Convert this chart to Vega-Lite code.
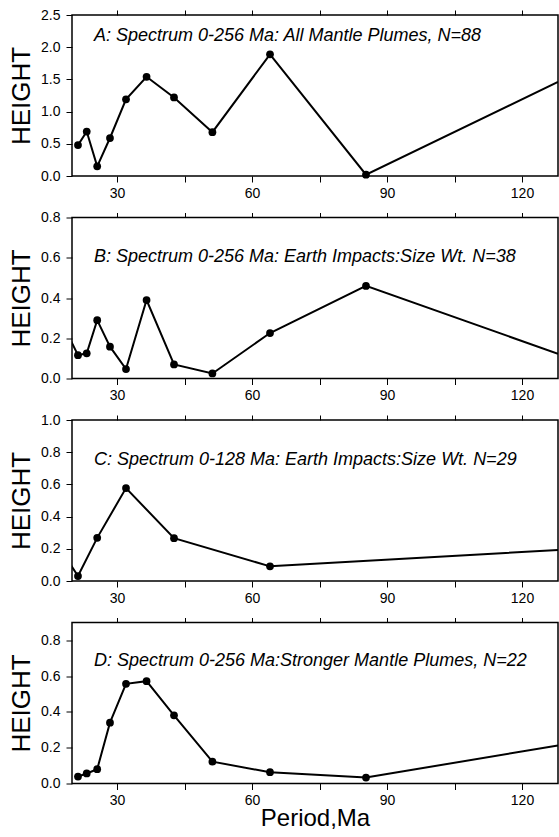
{
  "$schema": "https://vega.github.io/schema/vega-lite/v6.json",
  "background": "white",
  "autosize": {"type": "pad"},
  "padding": {"left": 7, "top": 7, "right": 0, "bottom": 0},
  "bounds": "flush",
  "spacing": 41.5,
  "config": {
    "font": "Liberation Sans",
    "view": {"stroke": "black", "strokeWidth": 1.5},
    "title": {"anchor": "start", "frame": "group", "dx": 22, "baseline": "alphabetic", "fontSize": 18, "fontStyle": "italic", "fontWeight": "normal", "font": "Liberation Sans", "color": "black"},
    "axis": {
      "domain": false,
      "grid": false,
      "tickColor": "black",
      "tickSize": 6,
      "tickWidth": 1,
      "labelColor": "black",
      "labelFont": "Liberation Sans",
      "labelFontSize": 14,
      "labelOverlap": false,
      "titleColor": "black",
      "titleFont": "Liberation Sans",
      "titleFontWeight": "normal"
    },
    "axisX": {"labelPadding": 4},
    "axisY": {"labelPadding": 6, "titlePadding": 6, "titleFontSize": 26}
  },
  "datasets": {
    "A": [
      {"period": 21.33, "amp": 0.48, "dot": true},
      {"period": 23.27, "amp": 0.69, "dot": true},
      {"period": 25.6, "amp": 0.15, "dot": true},
      {"period": 28.44, "amp": 0.59, "dot": true},
      {"period": 32.0, "amp": 1.19, "dot": true},
      {"period": 36.57, "amp": 1.54, "dot": true},
      {"period": 42.67, "amp": 1.22, "dot": true},
      {"period": 51.2, "amp": 0.68, "dot": true},
      {"period": 64.0, "amp": 1.89, "dot": true},
      {"period": 85.33, "amp": 0.02, "dot": true},
      {"period": 128.0, "amp": 1.46, "dot": false}
    ],
    "B": [
      {"period": 19.69, "amp": 0.19, "dot": false},
      {"period": 21.33, "amp": 0.116, "dot": true},
      {"period": 23.27, "amp": 0.125, "dot": true},
      {"period": 25.6, "amp": 0.29, "dot": true},
      {"period": 28.44, "amp": 0.158, "dot": true},
      {"period": 32.0, "amp": 0.047, "dot": true},
      {"period": 36.57, "amp": 0.39, "dot": true},
      {"period": 42.67, "amp": 0.07, "dot": true},
      {"period": 51.2, "amp": 0.025, "dot": true},
      {"period": 64.0, "amp": 0.226, "dot": true},
      {"period": 85.33, "amp": 0.46, "dot": true},
      {"period": 128.0, "amp": 0.123, "dot": false}
    ],
    "C": [
      {"period": 18.29, "amp": 0.16, "dot": false},
      {"period": 21.33, "amp": 0.031, "dot": true},
      {"period": 25.6, "amp": 0.268, "dot": true},
      {"period": 32.0, "amp": 0.577, "dot": true},
      {"period": 42.67, "amp": 0.266, "dot": true},
      {"period": 64.0, "amp": 0.091, "dot": true},
      {"period": 128.0, "amp": 0.193, "dot": false}
    ],
    "D": [
      {"period": 21.33, "amp": 0.039, "dot": true},
      {"period": 23.27, "amp": 0.056, "dot": true},
      {"period": 25.6, "amp": 0.08, "dot": true},
      {"period": 28.44, "amp": 0.34, "dot": true},
      {"period": 32.0, "amp": 0.557, "dot": true},
      {"period": 36.57, "amp": 0.572, "dot": true},
      {"period": 42.67, "amp": 0.381, "dot": true},
      {"period": 51.2, "amp": 0.122, "dot": true},
      {"period": 64.0, "amp": 0.063, "dot": true},
      {"period": 85.33, "amp": 0.033, "dot": true},
      {"period": 128.0, "amp": 0.213, "dot": false}
    ]
  },
  "vconcat": [
    {
      "width": 486, "height": 161,
      "title": {"text": "A: Spectrum 0-256 Ma: All Mantle Plumes, N=88", "offset": -37},
      "layer": [
        {
          "data": {"name": "A"},
          "mark": {"type": "line", "color": "black", "strokeWidth": 2, "clip": true},
          "encoding": {
            "x": {"field": "period", "type": "quantitative", "scale": {"domain": [20, 128], "nice": false, "zero": false},
                  "axis": {"orient": "bottom", "title": null, "values": [30, 45, 60, 75, 90, 105, 120], "labelExpr": "datum.value % 30 == 0 ? datum.label : ''"}},
            "y": {"field": "amp", "type": "quantitative", "scale": {"domain": [0, 2.5], "nice": false},
                  "axis": {"title": "HEIGHT", "values": [0, 0.5, 1, 1.5, 2, 2.5], "format": ".1f"}}
          }
        },
        {
          "data": {"name": "A"},
          "transform": [{"filter": "datum.dot"}],
          "mark": {"type": "point", "filled": true, "color": "black", "opacity": 1, "size": 60},
          "encoding": {
            "x": {"field": "period", "type": "quantitative",
                  "axis": {"orient": "top", "title": null, "labels": false, "values": [30, 45, 60, 75, 90, 105, 120], "tickSize": 5}},
            "y": {"field": "amp", "type": "quantitative",
                  "axis": {"title": "HEIGHT", "values": [0, 0.5, 1, 1.5, 2, 2.5], "format": ".1f"}}
          }
        }
      ]
    },
    {
      "width": 486, "height": 161,
      "title": {"text": "B: Spectrum 0-256 Ma: Earth Impacts:Size Wt. N=38", "offset": -55},
      "layer": [
        {
          "data": {"name": "B"},
          "mark": {"type": "line", "color": "black", "strokeWidth": 2, "clip": true},
          "encoding": {
            "x": {"field": "period", "type": "quantitative", "scale": {"domain": [20, 128], "nice": false, "zero": false},
                  "axis": {"orient": "bottom", "title": null, "values": [30, 45, 60, 75, 90, 105, 120], "labelExpr": "datum.value % 30 == 0 ? datum.label : ''"}},
            "y": {"field": "amp", "type": "quantitative", "scale": {"domain": [0, 0.8], "nice": false},
                  "axis": {"title": "HEIGHT", "values": [0, 0.2, 0.4, 0.6, 0.8], "format": ".1f"}}
          }
        },
        {
          "data": {"name": "B"},
          "transform": [{"filter": "datum.dot"}],
          "mark": {"type": "point", "filled": true, "color": "black", "opacity": 1, "size": 60},
          "encoding": {
            "x": {"field": "period", "type": "quantitative",
                  "axis": {"orient": "top", "title": null, "labels": false, "values": [30, 45, 60, 75, 90, 105, 120], "tickSize": 5}},
            "y": {"field": "amp", "type": "quantitative",
                  "axis": {"title": "HEIGHT", "values": [0, 0.2, 0.4, 0.6, 0.8], "format": ".1f"}}
          }
        }
      ]
    },
    {
      "width": 486, "height": 161,
      "title": {"text": "C: Spectrum 0-128 Ma: Earth Impacts:Size Wt. N=29", "offset": -56},
      "layer": [
        {
          "data": {"name": "C"},
          "mark": {"type": "line", "color": "black", "strokeWidth": 2, "clip": true},
          "encoding": {
            "x": {"field": "period", "type": "quantitative", "scale": {"domain": [20, 128], "nice": false, "zero": false},
                  "axis": {"orient": "bottom", "title": null, "values": [30, 45, 60, 75, 90, 105, 120], "labelExpr": "datum.value % 30 == 0 ? datum.label : ''"}},
            "y": {"field": "amp", "type": "quantitative", "scale": {"domain": [0, 1.0], "nice": false},
                  "axis": {"title": "HEIGHT", "values": [0, 0.2, 0.4, 0.6, 0.8, 1.0], "format": ".1f"}}
          }
        },
        {
          "data": {"name": "C"},
          "transform": [{"filter": "datum.dot"}],
          "mark": {"type": "point", "filled": true, "color": "black", "opacity": 1, "size": 60},
          "encoding": {
            "x": {"field": "period", "type": "quantitative",
                  "axis": {"orient": "top", "title": null, "labels": false, "values": [30, 45, 60, 75, 90, 105, 120], "tickSize": 5}},
            "y": {"field": "amp", "type": "quantitative",
                  "axis": {"title": "HEIGHT", "values": [0, 0.2, 0.4, 0.6, 0.8, 1.0], "format": ".1f"}}
          }
        }
      ]
    },
    {
      "width": 486, "height": 161,
      "title": {"text": "D: Spectrum 0-256 Ma:Stronger Mantle Plumes, N=22", "offset": -53},
      "layer": [
        {
          "data": {"name": "D"},
          "mark": {"type": "line", "color": "black", "strokeWidth": 2, "clip": true},
          "encoding": {
            "x": {"field": "period", "type": "quantitative", "scale": {"domain": [20, 128], "nice": false, "zero": false},
                  "axis": {"orient": "bottom", "title": "Period,Ma", "titleFontSize": 24, "titlePadding": -1, "values": [30, 45, 60, 75, 90, 105, 120], "labelExpr": "datum.value % 30 == 0 ? datum.label : ''"}},
            "y": {"field": "amp", "type": "quantitative", "scale": {"domain": [0, 0.9], "nice": false},
                  "axis": {"title": "HEIGHT", "values": [0, 0.2, 0.4, 0.6, 0.8], "format": ".1f"}}
          }
        },
        {
          "data": {"name": "D"},
          "transform": [{"filter": "datum.dot"}],
          "mark": {"type": "point", "filled": true, "color": "black", "opacity": 1, "size": 60},
          "encoding": {
            "x": {"field": "period", "type": "quantitative",
                  "axis": {"orient": "top", "title": null, "labels": false, "values": [30, 45, 60, 75, 90, 105, 120], "tickSize": 5}},
            "y": {"field": "amp", "type": "quantitative",
                  "axis": {"title": "HEIGHT", "values": [0, 0.2, 0.4, 0.6, 0.8], "format": ".1f"}}
          }
        }
      ]
    }
  ]
}
